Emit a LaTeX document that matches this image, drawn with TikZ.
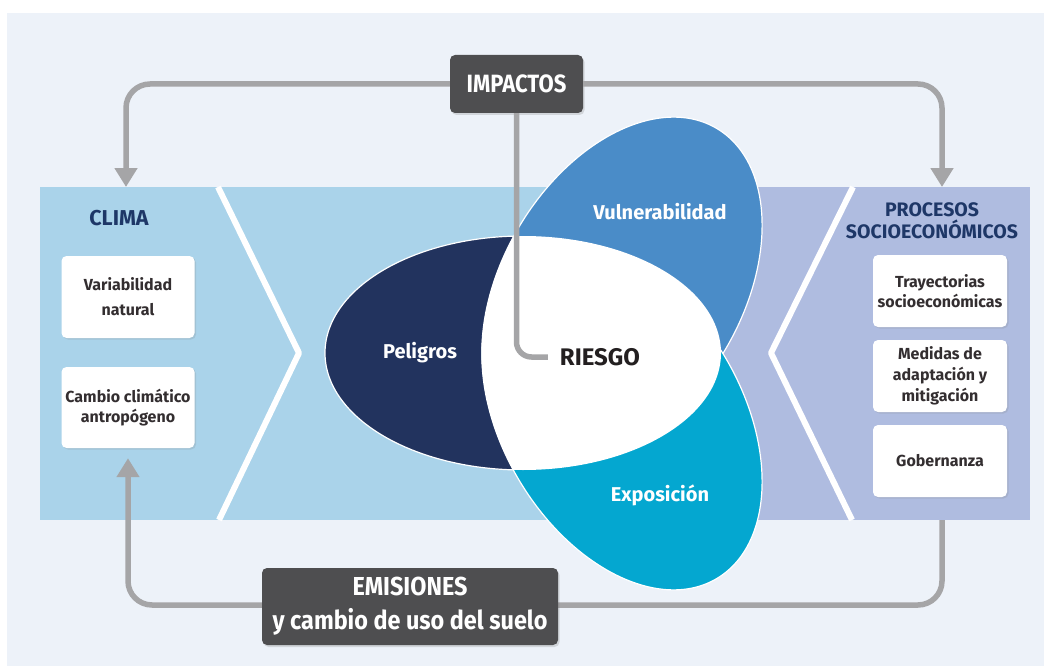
\documentclass[tikz,border=0pt]{standalone}
\usepackage{fontspec}
\usepackage{graphicx}
\setmainfont{Fira Sans}
\usetikzlibrary{arrows.meta,shadows,calc}
\definecolor{bgc}{HTML}{EDF2F9}
\definecolor{lblue}{HTML}{AAD3EA}
\definecolor{lav}{HTML}{AFBCE0}
\definecolor{navy}{HTML}{22335E}
\definecolor{vulc}{HTML}{4A8CC8}
\definecolor{expc}{HTML}{04A7D0}
\definecolor{lgray}{HTML}{A5A5A7}
\definecolor{dbox}{HTML}{4E4E50}
\definecolor{ttl}{HTML}{1E3767}
\definecolor{btxt}{HTML}{332E30}
\definecolor{rtxt}{HTML}{231F20}
\begin{document}
\begin{tikzpicture}[x=1pt,y=-1pt,
  conn/.style={draw=lgray, line width=5.5pt, rounded corners=24pt},
  arr/.style={-{Triangle[width=22pt,length=19pt]}},
  darkbox/.style={fill=dbox, rounded corners=5pt, text=white, align=center,
    inner sep=0pt, drop shadow={opacity=0.25, shadow xshift=1.5pt, shadow yshift=-2pt}},
  wbox/.style={fill=white, rounded corners=5pt, align=center, inner sep=0pt,
    minimum width=133pt, text=btxt, font=\fontsize{16}{20}\selectfont\bfseries,
    drop shadow={opacity=0.2, shadow xshift=1.5pt, shadow yshift=-1.5pt}},
  ttlstyle/.style={text=ttl, font=\fontsize{19.5}{22}\selectfont\bfseries, align=center},
  lobelbl/.style={text=white, font=\fontsize{20}{24}\selectfont\bfseries},
  chev/.style={draw=white, line width=6pt, line join=round},
  lobe/.style={draw=white, line width=1.2pt}
]
\useasboundingbox (0,0) rectangle (1044,666);
\fill[white] (0,0) rectangle (1044,666);
\fill[bgc] (7,13) rectangle (1044,666);

% panels
\fill[lblue] (40,187) rectangle (718,520);
\fill[lav] (718,187) rectangle (1030,520);
\draw[chev] (218,187) -- (299,353) -- (219,520);
\draw[chev] (853,187) -- (771,353) -- (852,520);

% top and bottom nodes
\node[darkbox, minimum width=133pt, minimum height=58pt] (imp) at (516.5,84)
  {\fontsize{25}{28}\selectfont\bfseries\scalebox{0.88}[1]{IMPACTOS}};
\coordinate (ltop) at (126,187);
\coordinate (rtop) at (942,187);
\coordinate (rbot) at (942,520);
\coordinate (lbot) at (128,605);

% left boxes
\node[ttlstyle, font=\fontsize{21.5}{24}\selectfont\bfseries] (clima) at (119,218) {CLIMA};
\node[wbox, minimum height=82pt, font=\fontsize{16}{25}\selectfont\bfseries] (var) at (128,297) {Variabilidad\\natural};
\node[wbox, minimum height=81pt] (cam) at (128,407.5) {Cambio climático\\antropógeno};

% right boxes
\node[ttlstyle] (proc) at (932,221) {PROCESOS\\SOCIOECONÓMICOS};
\node[wbox, minimum width=134pt, minimum height=72pt] (tra) at (940,291) {Trayectorias\\socioeconómicas};
\node[wbox, minimum width=134pt, minimum height=72pt, font=\fontsize{16}{21}\selectfont\bfseries] (med) at (940,376) {Medidas de\\adaptación y\\mitigación};
\node[wbox, minimum width=134pt, minimum height=72pt] (gob) at (940,461) {Gobernanza};

% connectors top
\draw[conn, arr] (imp.west) -| (ltop);
\draw[conn, arr] (imp.east) -| (rtop);
% bottom loop
\draw[conn, arr, shorten >=10pt] (rbot) |- (lbot) -- (cam.south);

% lobes
\fill[navy] (523,353) ellipse [x radius=198, y radius=117];
\draw[lobe] (523,353) ellipse [x radius=198, y radius=117];
\fill[vulc, rotate around={59.4:(622,288.5)}] (622,288.5) ellipse [x radius=186, y radius=120];
\draw[lobe, rotate around={59.4:(622,288.5)}] (622,288.5) ellipse [x radius=186, y radius=120];
\fill[expc, rotate around={-59.4:(622,418.5)}] (622,418.5) ellipse [x radius=186, y radius=120];
\draw[lobe, rotate around={-59.4:(622,418.5)}] (622,418.5) ellipse [x radius=186, y radius=120];
\begin{scope}
  \clip (523,353) ellipse [x radius=198, y radius=117];
  \fill[white, rotate around={59.4:(622,288.5)}] (622,288.5) ellipse [x radius=186, y radius=120];
  \fill[white, rotate around={-59.4:(622,418.5)}] (622,418.5) ellipse [x radius=186, y radius=120];
\end{scope}

\node[lobelbl] (pel) at (420,353) {Peligros};
\node[lobelbl] (vul) at (660,212) {Vulnerabilidad};
\node[lobelbl] (exp) at (660,495) {Exposición};
\node[text=rtxt, inner sep=0pt, font=\fontsize{24}{28}\selectfont\bfseries] (ries) at (600,357) {RIESGO};

\draw[draw=lgray, line width=5.5pt, rounded corners=15pt, shorten >=12pt] (imp.south) |- (ries.west);

% emissions box
\node[darkbox, minimum width=296pt, minimum height=77pt, font=\fontsize{26}{34}\selectfont\bfseries] (emi) at (410,606.5)
  {\scalebox{0.9}[1]{EMISIONES}\\\scalebox{0.9}[1]{y cambio de uso del suelo}};
\end{tikzpicture}
\end{document}
